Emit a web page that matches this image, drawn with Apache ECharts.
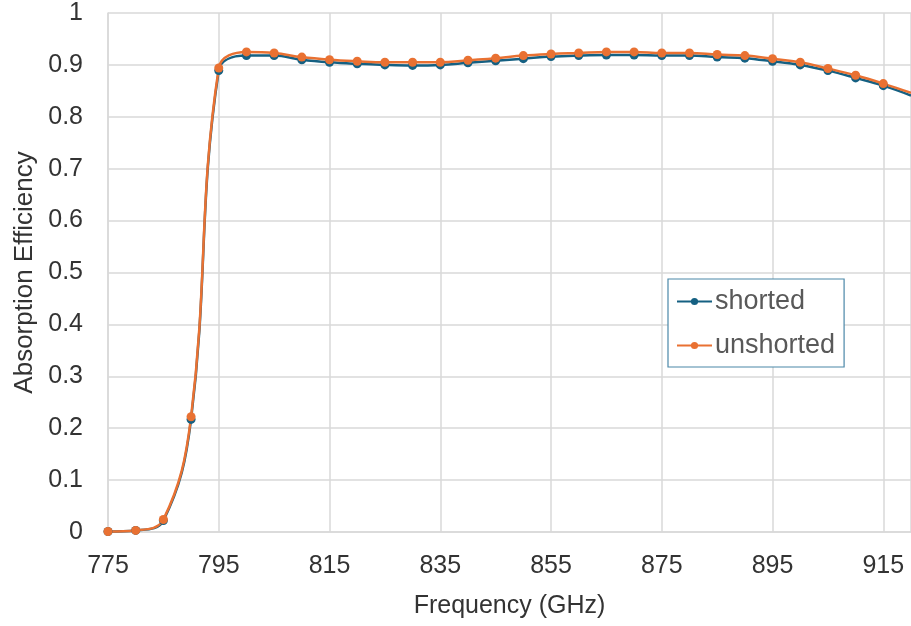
<!DOCTYPE html>
<html>
<head>
<meta charset="utf-8">
<script src="https://cdn.jsdelivr.net/npm/echarts@6/dist/echarts.min.js"></script>
<style>
  html, body { margin: 0; padding: 0; background: #ffffff; }
  #chart { width: 911px; height: 626px; }
</style>
</head>
<body>
<div id="chart"></div>
<script>
// Frequency sweep (GHz), one sample every 5 GHz
const frequency = [775, 780, 785, 790, 795, 800, 805, 810, 815, 820, 825, 830, 835, 840, 845,
                   850, 855, 860, 865, 870, 875, 880, 885, 890, 895, 900, 905, 910, 915, 920];

// Absorption efficiency, shorted configuration
const shorted = [0.001, 0.003, 0.022, 0.217, 0.889, 0.918, 0.918, 0.910, 0.905, 0.902,
                 0.900, 0.899, 0.900, 0.904, 0.908, 0.912, 0.916, 0.918, 0.919, 0.919,
                 0.918, 0.918, 0.915, 0.913, 0.907, 0.900, 0.889, 0.875, 0.860, 0.841];

// Absorption efficiency, unshorted configuration
const unshorted = [0.001, 0.003, 0.024, 0.222, 0.894, 0.925, 0.923, 0.915, 0.910, 0.907,
                   0.905, 0.905, 0.905, 0.909, 0.913, 0.918, 0.921, 0.923, 0.925, 0.925,
                   0.923, 0.923, 0.920, 0.918, 0.912, 0.905, 0.893, 0.880, 0.864, 0.846];

const seriesNames = ['shorted', 'unshorted'];
const seriesColors = ['#156082', '#E97132'];

const xTitle = 'Frequency (GHz)';
const yTitle = 'Absorption Efficiency';

const FONT = 'Liberation Sans, Arial, sans-serif';
const GRID_COLOR = '#d9d9d9';

// the last sample sits on the clipped right edge, so no marker there
function toPoints(values) {
  return values.map((v, i) => {
    const item = { value: [frequency[i], v] };
    if (i === values.length - 1) item.symbol = 'none';
    return item;
  });
}

function lineSeries(name, values, color) {
  return {
    name: name,
    type: 'line',
    data: toPoints(values),
    smooth: 0.4,
    symbol: 'circle',
    symbolSize: 9,
    showAllSymbol: true,
    clip: true,
    lineStyle: { color: color, width: 2.5 },
    itemStyle: { color: color },
    emphasis: { disabled: true }
  };
}

const chart = echarts.init(document.getElementById('chart'), null, { renderer: 'canvas' });

chart.setOption({
  animation: false,
  backgroundColor: '#ffffff',
  grid: { left: 108, right: -4, top: 13, bottom: 94, containLabel: false },
  xAxis: {
    type: 'value',
    min: 775,
    max: 920,
    interval: 20,
    name: xTitle,
    nameLocation: 'middle',
    nameGap: 62,
    nameTextStyle: { fontFamily: FONT, fontSize: 25, color: '#333333' },
    axisLine: { show: true, lineStyle: { color: GRID_COLOR, width: 1.5 } },
    axisTick: { show: false },
    axisLabel: { fontFamily: FONT, fontSize: 25, color: '#333333', margin: 22, showMaxLabel: false },
    splitLine: { show: true, lineStyle: { color: GRID_COLOR, width: 1.5 } }
  },
  yAxis: {
    type: 'value',
    min: 0,
    max: 1,
    interval: 0.1,
    name: yTitle,
    nameLocation: 'middle',
    nameGap: 70,
    nameTextStyle: { fontFamily: FONT, fontSize: 26, color: '#333333' },
    axisLine: { show: true, lineStyle: { color: GRID_COLOR, width: 1.5 } },
    axisTick: { show: false },
    axisLabel: { fontFamily: FONT, fontSize: 25, color: '#333333', margin: 25 },
    splitLine: { show: true, lineStyle: { color: GRID_COLOR, width: 1.5 } }
  },
  legend: {
    data: seriesNames,
    orient: 'vertical',
    left: 668,
    top: 279,
    padding: [9, 9, 8, 8],
    itemGap: 17,
    itemWidth: 35,
    itemHeight: 9,
    backgroundColor: '#ffffff',
    borderColor: '#4a87a8',
    borderWidth: 1.2,
    borderRadius: 0,
    textStyle: { fontFamily: FONT, fontSize: 27, color: '#595959', padding: [0, 0, 0, -2] }
  },
  series: [
    lineSeries(seriesNames[0], shorted, seriesColors[0]),
    lineSeries(seriesNames[1], unshorted, seriesColors[1])
  ]
});
</script>
</body>
</html>
